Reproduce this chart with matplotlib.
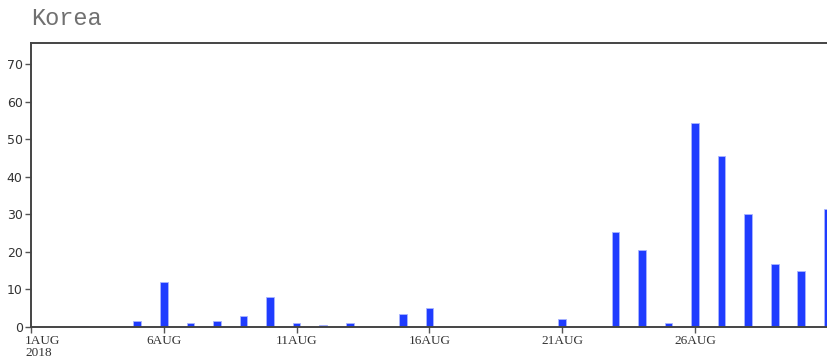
import matplotlib
matplotlib.use("Agg")
import matplotlib.pyplot as plt
import matplotlib.transforms as mtransforms

days = [3, 5, 6, 7, 8, 9, 10, 11, 12, 13, 15, 16, 21, 23, 24, 25, 26, 27, 28, 29, 30, 31]
values = [0.15, 1.5, 12.0, 1.1, 1.5, 2.9, 8.1, 1.0, 0.6, 1.0, 3.5, 5.1, 2.0, 25.2, 20.6, 1.1, 54.2, 45.4, 30.1, 16.9, 15.0, 31.4]
tick_days = [1, 6, 11, 16, 21, 26]
tick_labels = ["1AUG\n2018", "6AUG", "11AUG", "16AUG", "21AUG", "26AUG"]
ytick_vals = [0, 10, 20, 30, 40, 50, 60, 70]

fig = plt.figure(figsize=(8.27, 3.61), dpi=100)
ax = fig.add_axes([0.0375, 0.0942, 0.9645, 0.7866])
ax.bar(days, values, width=0.29, color="#1f3cff", edgecolor="#aab6ff", linewidth=0.6, zorder=2)
ax.set_xlim(1, 31.03)
ax.set_ylim(0, 75.6)
ax.set_xticks(tick_days)
ax.set_xticklabels([""] + tick_labels[1:], fontfamily="Liberation Serif", fontsize=9.5, color="#333333")
trans = mtransforms.blended_transform_factory(ax.transData, ax.transAxes) + \
    mtransforms.ScaledTranslation(-6 / 100, -8 / 100, fig.dpi_scale_trans)
ax.text(tick_days[0], 0, tick_labels[0], transform=trans, ha="left", va="top",
        fontfamily="Liberation Serif", fontsize=9.5, color="#333333", linespacing=1.0)
ax.set_yticks(ytick_vals)
ax.set_yticklabels([str(v) for v in ytick_vals], fontfamily="DejaVu Sans", fontsize=9, color="#333333")
ax.tick_params(axis="both", direction="out", length=4, width=1, color="#555555", pad=2)
for s in ax.spines.values():
    s.set_color("#444444")
    s.set_linewidth(1.4)
fig.text(0.0375, 0.95, "Korea", fontfamily="Liberation Mono", fontsize=17, color="#707070", ha="left", va="center")
fig.savefig("out.png", dpi=100)
